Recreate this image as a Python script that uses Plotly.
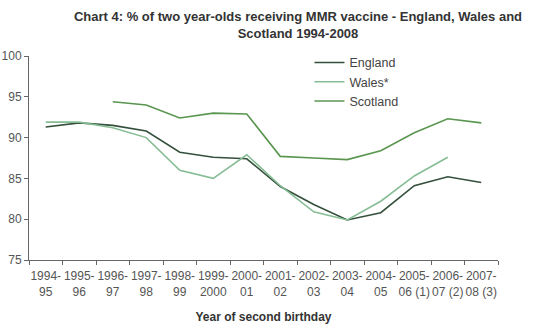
import plotly.graph_objects as go

categories = ["1994-<br>95", "1995-<br>96", "1996-<br>97", "1997-<br>98", "1998-<br>99",
              "1999-<br>2000", "2000-<br>01", "2001-<br>02", "2002-<br>03", "2003-<br>04",
              "2004-<br>05", "2005-<br>06 (1)", "2006-<br>07 (2)", "2007-<br>08 (3)"]
england = [91.3, 91.8, 91.5, 90.8, 88.2, 87.6, 87.4, 84.0, 81.8, 79.9, 80.8, 84.1, 85.2, 84.5]
wales = [91.9, 91.9, 91.2, 90.0, 86.0, 85.0, 87.9, 84.1, 80.9, 79.9, 82.2, 85.3, 87.6, None]
scotland = [None, None, 94.4, 94.0, 92.4, 93.0, 92.9, 87.7, 87.5, 87.3, 88.4, 90.6, 92.3, 91.8]

fig = go.Figure()
fig.add_trace(go.Scatter(x=categories, y=england, name="England", mode="lines",
                         line=dict(color="#34503c", width=1.6)))
fig.add_trace(go.Scatter(x=categories, y=wales, name="Wales*", mode="lines",
                         line=dict(color="#86bd95", width=1.6)))
fig.add_trace(go.Scatter(x=categories, y=scotland, name="Scotland", mode="lines",
                         line=dict(color="#5a9650", width=1.6)))

fig.update_layout(
    width=540, height=328,
    margin=dict(l=29, r=42, t=56, b=68),
    paper_bgcolor="white", plot_bgcolor="white",
    font=dict(family="Liberation Sans, Arial, sans-serif", size=12, color="#555555"),
    title=dict(text="<b>Chart 4: % of two year-olds receiving MMR vaccine - England, Wales and<br>Scotland 1994-2008</b>",
               x=298/540, xanchor="center", y=0.935, yanchor="top",
               font=dict(size=13, color="#333333")),
    legend=dict(x=0.598, y=1.04, xanchor="left", yanchor="top",
                font=dict(size=12.5, color="#444444"), bgcolor="rgba(0,0,0,0)",
                tracegroupgap=0, itemwidth=30),
    showlegend=True,
)
fig.update_xaxes(type="category", range=[-0.5, 13.5], showline=True, linecolor="#666666",
                 linewidth=1, ticks="outside", ticklen=4, tickcolor="#666666",
                 tickson="boundaries", showgrid=False, tickangle=0, automargin=False,
                 ticklabelstandoff=5,
                 tickfont=dict(size=12, color="#555555"),
                 title=dict(text="<b>Year of second birthday</b>", font=dict(size=12, color="#333333"),
                            standoff=14))
fig.update_yaxes(range=[75, 100], dtick=5, showline=True, linecolor="#666666", linewidth=1,
                 ticks="outside", ticklen=4, tickcolor="#666666", showgrid=False,
                 automargin=False, zeroline=False, tickfont=dict(size=12, color="#555555"))

fig.write_html("out.html")
